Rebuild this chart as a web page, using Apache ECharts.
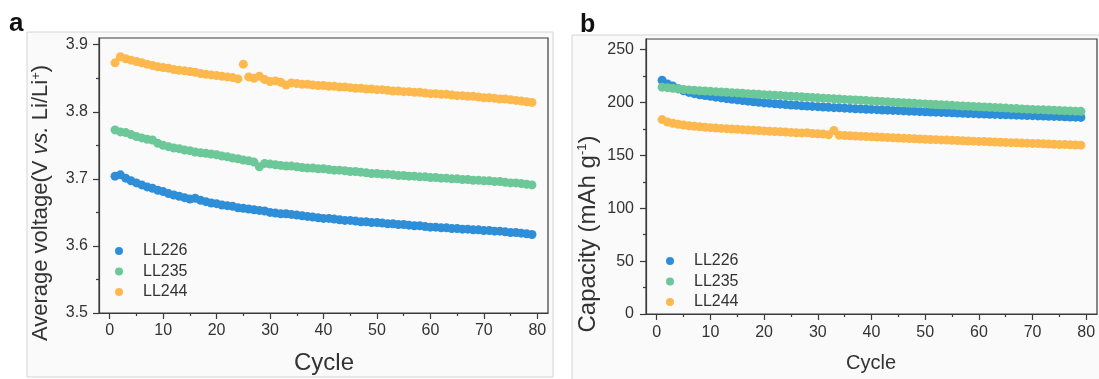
<!DOCTYPE html>
<html><head><meta charset="utf-8">
<script src="https://cdn.jsdelivr.net/npm/echarts@6/dist/echarts.min.js"></script>
<style>html,body{margin:0;padding:0;background:#fff}#c{width:1099px;height:379px}</style>
</head><body><div id="c"></div>
<script>
const cycles = [1,2,3,4,5,6,7,8,9,10,11,12,13,14,15,16,17,18,19,20,21,22,23,24,25,26,27,28,29,30,31,32,33,34,35,36,37,38,39,40,41,42,43,44,45,46,47,48,49,50,51,52,53,54,55,56,57,58,59,60,61,62,63,64,65,66,67,68,69,70,71,72,73,74,75,76,77,78,79];
const seriesNames = ['LL226','LL235','LL244'];

const voltLL226 = [3.704,3.706,3.701,3.697,3.694,3.691,3.688,3.686,3.683,3.681,3.678,3.676,3.674,3.672,3.670,3.671,3.668,3.666,3.664,3.663,3.661,3.660,3.659,3.657,3.656,3.655,3.654,3.653,3.652,3.650,3.649,3.648,3.648,3.647,3.646,3.645,3.644,3.643,3.642,3.641,3.641,3.640,3.639,3.638,3.638,3.637,3.636,3.636,3.635,3.635,3.634,3.633,3.633,3.632,3.632,3.631,3.630,3.630,3.629,3.628,3.628,3.627,3.627,3.626,3.626,3.625,3.625,3.624,3.624,3.623,3.623,3.622,3.622,3.621,3.620,3.620,3.619,3.618,3.617];
const voltLL235 = [3.773,3.770,3.769,3.766,3.763,3.761,3.759,3.758,3.753,3.750,3.748,3.746,3.745,3.743,3.742,3.740,3.739,3.738,3.737,3.736,3.734,3.733,3.731,3.730,3.728,3.727,3.725,3.718,3.723,3.722,3.721,3.720,3.719,3.719,3.718,3.717,3.716,3.716,3.715,3.715,3.714,3.713,3.713,3.712,3.711,3.711,3.710,3.709,3.708,3.708,3.707,3.707,3.706,3.705,3.705,3.704,3.704,3.703,3.703,3.702,3.702,3.701,3.701,3.700,3.700,3.699,3.699,3.698,3.698,3.697,3.697,3.696,3.696,3.695,3.694,3.694,3.693,3.692,3.691];
const voltLL244 = [3.873,3.882,3.879,3.877,3.875,3.873,3.871,3.869,3.867,3.866,3.865,3.863,3.862,3.861,3.860,3.859,3.857,3.856,3.855,3.854,3.853,3.852,3.851,3.849,3.871,3.852,3.850,3.853,3.848,3.845,3.846,3.844,3.840,3.843,3.842,3.841,3.841,3.840,3.839,3.839,3.838,3.838,3.837,3.837,3.836,3.835,3.835,3.834,3.834,3.833,3.833,3.832,3.831,3.831,3.830,3.830,3.829,3.829,3.828,3.827,3.827,3.826,3.826,3.825,3.824,3.824,3.823,3.823,3.822,3.821,3.821,3.820,3.819,3.819,3.818,3.817,3.816,3.815,3.814];

const capLL226 = [221.0,217.5,215.5,213.0,211.0,209.5,208.3,207.3,206.5,205.8,205.0,204.3,203.6,203.0,202.4,201.8,201.2,200.6,200.1,199.6,199.2,198.8,198.4,198.0,197.6,197.3,196.9,196.6,196.3,196.0,195.7,195.4,195.1,194.9,194.6,194.4,194.1,193.9,193.6,193.4,193.2,192.9,192.7,192.5,192.3,192.0,191.8,191.6,191.4,191.2,191.0,190.8,190.6,190.4,190.2,190.0,189.8,189.6,189.4,189.2,189.0,188.9,188.7,188.5,188.3,188.2,188.0,187.8,187.7,187.5,187.3,187.2,187.0,186.8,186.7,186.5,186.3,186.1,185.9];
const capLL235 = [214.5,214.0,213.4,212.8,212.3,211.9,211.5,211.1,210.8,210.5,210.2,209.9,209.6,209.3,209.0,208.7,208.3,208.0,207.7,207.4,207.1,206.8,206.5,206.2,205.9,205.6,205.3,205.0,204.7,204.4,204.1,203.8,203.5,203.2,202.9,202.6,202.4,202.1,201.8,201.5,201.2,200.9,200.6,200.3,200.0,199.7,199.5,199.2,198.9,198.6,198.3,198.1,197.8,197.5,197.3,197.0,196.7,196.5,196.2,195.9,195.7,195.4,195.2,194.9,194.7,194.4,194.2,193.9,193.7,193.4,193.2,193.0,192.8,192.6,192.4,192.2,192.0,191.8,191.6];
const capLL244 = [183.8,181.5,180.3,179.4,178.6,178.0,177.5,177.0,176.6,176.2,175.9,175.5,175.2,174.9,174.6,174.3,174.0,173.7,173.4,173.1,172.8,172.5,172.2,172.0,171.7,171.4,171.2,171.3,170.7,170.4,170.1,169.5,173.5,169.0,168.8,168.5,168.3,168.0,167.8,167.5,167.3,167.1,166.8,166.6,166.4,166.1,165.9,165.7,165.5,165.2,165.0,164.8,164.6,164.4,164.2,164.0,163.8,163.6,163.4,163.2,163.0,162.8,162.6,162.4,162.2,162.0,161.8,161.7,161.5,161.3,161.1,160.9,160.7,160.5,160.3,160.2,160.0,159.8,159.6];

const xTicks = [0,10,20,30,40,50,60,70,80];
const xMinorTicks = [5,15,25,35,45,55,65,75];
const voltTicks = [3.5,3.6,3.7,3.8,3.9];
const voltMinorTicks = [3.55,3.65,3.75,3.85];
const capTicks = [0,50,100,150,200,250];
const capMinorTicks = [25,75,125,175,225];

const COLORS = ['#2e8ed7','#6cc898','#fdb84e'];
const FONT = 'Liberation Sans, Arial, Helvetica, sans-serif';
const AX = '#3a3a3a';

function pairs(vals){ return vals.map((v,i)=>[cycles[i], v]); }

function axis(kind, grid, min, max, ticks, minor, labelFmt, margin){
  const isX = kind === 'x';
  const major = {
    type:'value', gridIndex:grid, min, max, position: isX ? 'bottom' : 'left',
    axisLine:{show:true, onZero:false, lineStyle:{color:AX, width:1.2}},
    axisTick:{show:true, inside:false, customValues:ticks, length:6, lineStyle:{color:AX, width:1.2}},
    axisLabel:{customValues:ticks, fontSize:16, color:'#333', fontFamily:FONT, margin, formatter:labelFmt},
    splitLine:{show:false}
  };
  const mnr = {
    type:'value', gridIndex:grid, min, max, position: isX ? 'bottom' : 'left',
    axisLine:{show:false, onZero:false},
    axisTick:{show:true, inside:false, customValues:minor, length:3, lineStyle:{color:AX, width:1.2}},
    axisLabel:{show:false},
    splitLine:{show:false}
  };
  return [major, mnr];
}

const chart = echarts.init(document.getElementById('c'), null, {renderer:'canvas'});

const xAxes = [
  ...axis('x', 0, -2, 82, xTicks, xMinorTicks, v => String(v), 10),
  ...axis('x', 1, -2, 82, xTicks, xMinorTicks, v => String(v), 11)
];
const yAxes = [
  ...axis('y', 0, 3.5, 3.91, voltTicks, voltMinorTicks, v => v.toFixed(1), 11),
  ...axis('y', 1, 0, 260, capTicks, capMinorTicks, v => String(v), 12)
];

const voltSeries = [voltLL226, voltLL235, voltLL244];
const capSeries = [capLL226, capLL235, capLL244];
const series = [];
voltSeries.forEach((vals,i)=>series.push({name:seriesNames[i], type:'scatter', xAxisIndex:0, yAxisIndex:0, symbol:'circle', symbolSize:9, itemStyle:{color:COLORS[i], opacity:1}, data:pairs(vals)}));
capSeries.forEach((vals,i)=>series.push({name:seriesNames[i], type:'scatter', xAxisIndex:2, yAxisIndex:2, symbol:'circle', symbolSize:9, itemStyle:{color:COLORS[i], opacity:1}, data:pairs(vals)}));

const legendCommon = {orient:'vertical', icon:'circle', itemWidth:38, itemHeight:8, itemGap:4.5, data:seriesNames,
  textStyle:{fontSize:16, color:'#333', fontFamily:FONT}, selectedMode:false};

chart.setOption({
  animation:false,
  backgroundColor:'#ffffff',
  color: COLORS,
  grid:[
    {left:99, top:38, width:449, height:275, show:true, borderColor:AX, borderWidth:1.2, backgroundColor:'transparent'},
    {left:646, top:39, width:451, height:275, show:true, borderColor:AX, borderWidth:1.2, backgroundColor:'transparent'}
  ],
  xAxis: xAxes,
  yAxis: yAxes,
  legend:[
    Object.assign({left:110, top:238}, legendCommon),
    Object.assign({left:661, top:248}, legendCommon)
  ],
  graphic:[
    {type:'rect', z:-10, shape:{x:27, y:32, width:526, height:345}, style:{fill:'#fafafa', stroke:'#d4d4d4', lineWidth:1}},
    {type:'rect', z:-10, shape:{x:572, y:35, width:540, height:350}, style:{fill:'#fafafa', stroke:'#d4d4d4', lineWidth:1}},
    {type:'text', x:9, y:37, style:{text:'a', font:'bold 26px ' + FONT, fill:'#111', textVerticalAlign:'bottom'}},
    {type:'text', x:580, y:38, style:{text:'b', font:'bold 25px ' + FONT, fill:'#111', textVerticalAlign:'bottom'}},
    {type:'text', x:41, y:203, rotation:Math.PI/2, style:{
      text:'{a|Average voltage(V }{i|vs.}{a| Li/Li}{s|+}{a|)}',
      textAlign:'center', textVerticalAlign:'middle', fill:'#333',
      rich:{a:{fontSize:22, fontFamily:FONT, fill:'#333'}, i:{fontSize:22, fontStyle:'italic', fontFamily:FONT, fill:'#333'}, s:{fontSize:13, fontFamily:FONT, verticalAlign:'top', fill:'#333'}}
    }},
    {type:'text', x:588, y:234, rotation:Math.PI/2, style:{
      text:'{a|Capacity (mAh g}{s|-1}{a|)}',
      textAlign:'center', textVerticalAlign:'middle', fill:'#333',
      rich:{a:{fontSize:24, fontFamily:FONT, fill:'#333'}, s:{fontSize:13, fontFamily:FONT, verticalAlign:'top', fill:'#333'}}
    }},
    {type:'text', x:324, y:363, style:{text:'Cycle', font:'24px ' + FONT, fill:'#333', textAlign:'center', textVerticalAlign:'middle'}},
    {type:'text', x:871, y:363, style:{text:'Cycle', font:'20px ' + FONT, fill:'#333', textAlign:'center', textVerticalAlign:'middle'}}
  ],
  series
});
</script></body></html>
